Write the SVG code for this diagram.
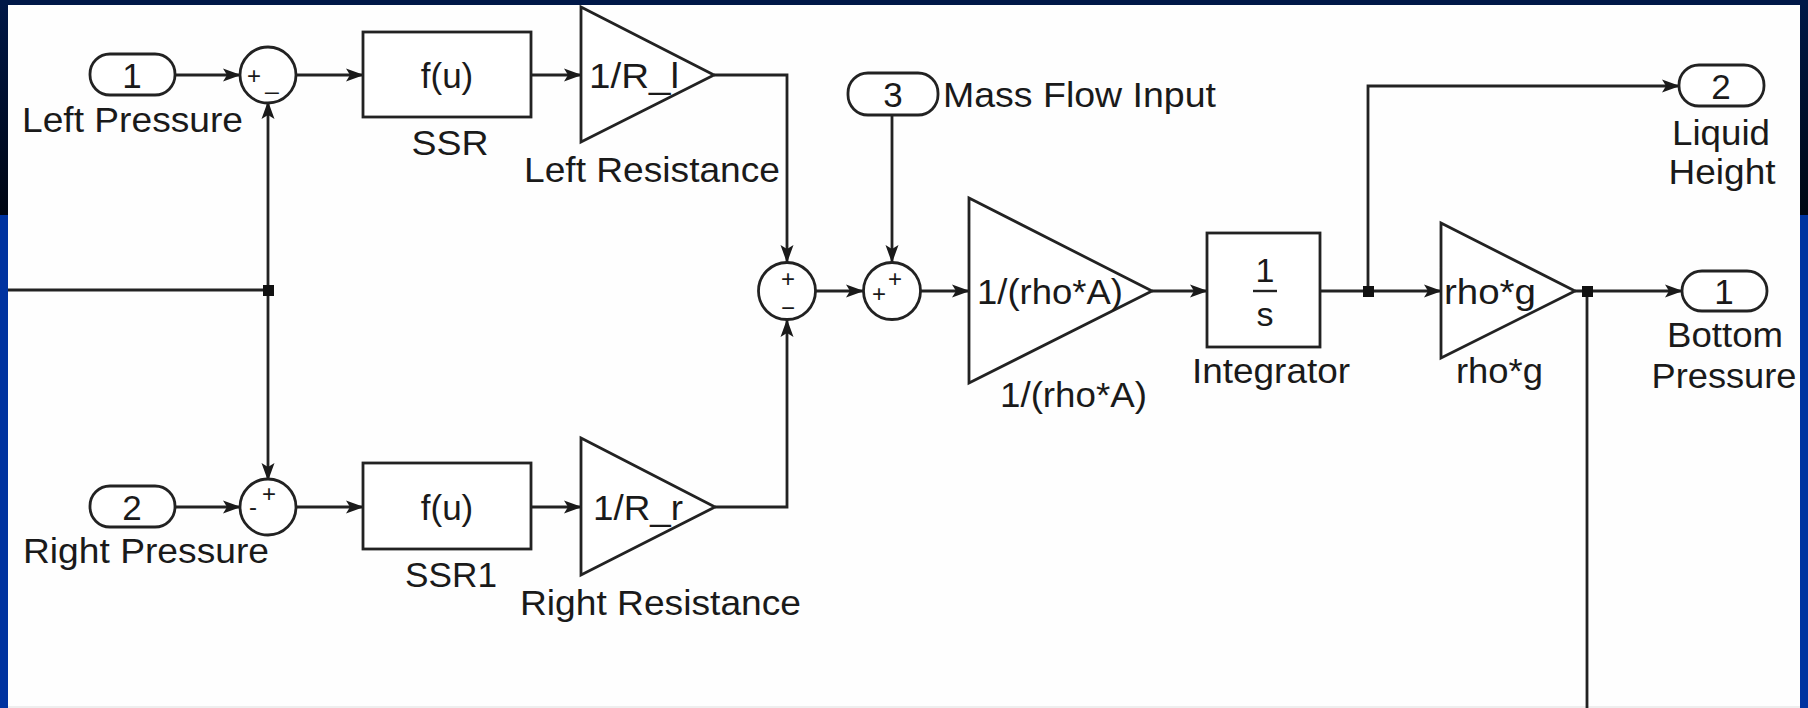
<svg xmlns="http://www.w3.org/2000/svg" width="1808" height="708" viewBox="0 0 1808 708">
<defs>
<linearGradient id="topdark" x1="0" y1="0" x2="0" y2="1">
<stop offset="0" stop-color="#001848"/>
<stop offset="1" stop-color="#000612"/>
</linearGradient>
<marker id="arr" markerUnits="userSpaceOnUse" markerWidth="18" markerHeight="14" refX="17" refY="7" orient="auto">
<path d="M0,0.5 L18,7 L0,13.5 L4,7 z" fill="#1a1a1a"/>
</marker>
<style>
.ln{fill:none;stroke:#222;stroke-width:2.8}
.ar{fill:none;stroke:#222;stroke-width:2.8;marker-end:url(#arr)}
.bx{fill:#fff;stroke:#222;stroke-width:2.8}
.t{font-family:"Liberation Sans",Arial,sans-serif;font-size:35px;fill:#1a1a1a}
.c{text-anchor:middle}
.sg{font-family:"Liberation Sans",Arial,sans-serif;font-size:24px;fill:#1a1a1a;text-anchor:middle}
.jn{fill:#111}
</style>
</defs>
<rect x="0" y="0" width="1808" height="708" fill="#0033a0"/>
<rect x="0" y="0" width="1808" height="215" fill="url(#topdark)"/>
<rect x="0" y="0" width="1808" height="5" fill="#001848"/>
<rect x="8" y="5" width="1792" height="703" fill="#fefefe"/>
<rect x="8" y="706" width="1792" height="2" fill="#eeeeee"/>

<g id="connectors">
<path class="ar" d="M175,75 H240"/>
<path class="ar" d="M296,75 H363"/>
<path class="ar" d="M531,75 H581"/>
<path class="ar" d="M714,75 H787 V262"/>
<path class="ln" d="M8,290 H268"/>
<path class="ar" d="M268,290 V102"/>
<path class="ar" d="M268,290 V480"/>
<path class="ar" d="M175,507 H240"/>
<path class="ar" d="M296,507 H363"/>
<path class="ar" d="M531,507 H581"/>
<path class="ar" d="M715,507 H787 V320"/>
<path class="ar" d="M816,291 H863"/>
<path class="ar" d="M892,115 V262"/>
<path class="ar" d="M921,291 H969"/>
<path class="ar" d="M1152,291 H1207"/>
<path class="ar" d="M1320,291 H1441"/>
<path class="ar" d="M1368,291 V86 H1679"/>
<path class="ar" d="M1575,291 H1682"/>
<path class="ln" d="M1587,291 V708"/>
<rect class="jn" x="263" y="285" width="11" height="11"/>
<rect class="jn" x="1363" y="286" width="11" height="11"/>
<rect class="jn" x="1582" y="286" width="11" height="11"/>
</g>

<g id="in1">
<rect class="bx" x="90" y="54" width="85" height="41" rx="20" ry="20"/>
<text class="t c" x="132" y="88">1</text>
<text class="t" x="22" y="132" textLength="221" lengthAdjust="spacingAndGlyphs">Left Pressure</text>
</g>
<g id="sum1">
<circle class="bx" cx="268" cy="75" r="28"/>
<text class="sg" x="254" y="84">+</text>
<text class="sg" x="272" y="89">_</text>
</g>
<g id="ssr">
<rect class="bx" x="363" y="32" width="168" height="85"/>
<text class="t c" x="447" y="88">f(u)</text>
<text class="t c" x="450" y="155" textLength="77" lengthAdjust="spacingAndGlyphs">SSR</text>
</g>
<g id="leftres">
<path class="bx" d="M581,7 L714,75 L581,142 z"/>
<text class="t" x="589" y="88" textLength="90" lengthAdjust="spacingAndGlyphs">1/R_l</text>
<text class="t" x="524" y="182" textLength="256" lengthAdjust="spacingAndGlyphs">Left Resistance</text>
</g>
<g id="in2">
<rect class="bx" x="90" y="486" width="85" height="41" rx="20" ry="20"/>
<text class="t c" x="132" y="520">2</text>
<text class="t" x="23" y="563" textLength="246" lengthAdjust="spacingAndGlyphs">Right Pressure</text>
</g>
<g id="sum2">
<circle class="bx" cx="268" cy="507" r="28"/>
<text class="sg" x="253" y="515">-</text>
<text class="sg" x="269" y="502">+</text>
</g>
<g id="ssr1">
<rect class="bx" x="363" y="463" width="168" height="86"/>
<text class="t c" x="447" y="520">f(u)</text>
<text class="t" x="405" y="587" textLength="92" lengthAdjust="spacingAndGlyphs">SSR1</text>
</g>
<g id="rightres">
<path class="bx" d="M581,438 L715,507 L581,575 z"/>
<text class="t" x="593" y="520" textLength="90" lengthAdjust="spacingAndGlyphs">1/R_r</text>
<text class="t" x="520" y="615" textLength="281" lengthAdjust="spacingAndGlyphs">Right Resistance</text>
</g>
<g id="sum3">
<circle class="bx" cx="787" cy="291" r="28.5"/>
<text class="sg" x="788" y="287">+</text>
<text class="sg" x="788" y="316">−</text>
</g>
<g id="in3">
<rect class="bx" x="848" y="73" width="90" height="42" rx="20" ry="20"/>
<text class="t c" x="893" y="107">3</text>
<text class="t" x="943" y="107" textLength="273" lengthAdjust="spacingAndGlyphs">Mass Flow Input</text>
</g>
<g id="sum4">
<circle class="bx" cx="892" cy="291" r="28.5"/>
<text class="sg" x="895" y="287">+</text>
<text class="sg" x="879" y="302">+</text>
</g>
<g id="gainA">
<path class="bx" d="M969,198 L1152,291 L969,383 z"/>
<text class="t" x="977" y="304" textLength="146" lengthAdjust="spacingAndGlyphs">1/(rho*A)</text>
<text class="t" x="1000" y="407" textLength="147" lengthAdjust="spacingAndGlyphs">1/(rho*A)</text>
</g>
<g id="integrator">
<rect class="bx" x="1207" y="233" width="113" height="114"/>
<text class="t c" x="1265" y="282" style="font-size:34px">1</text>
<path class="ln" d="M1253,291 H1277" style="stroke-width:2.4"/>
<text class="t c" x="1265" y="326" style="font-size:34px">s</text>
<text class="t" x="1192" y="383" textLength="158" lengthAdjust="spacingAndGlyphs">Integrator</text>
</g>
<g id="gaing">
<path class="bx" d="M1441,223 L1575,291 L1441,358 z"/>
<text class="t" x="1444" y="304" textLength="92" lengthAdjust="spacingAndGlyphs">rho*g</text>
<text class="t" x="1456" y="383" textLength="87" lengthAdjust="spacingAndGlyphs">rho*g</text>
</g>
<g id="out2">
<rect class="bx" x="1679" y="65" width="85" height="41" rx="20" ry="20"/>
<text class="t c" x="1721" y="99">2</text>
<text class="t c" x="1721" y="145" textLength="98" lengthAdjust="spacingAndGlyphs">Liquid</text>
<text class="t c" x="1722" y="184" textLength="107" lengthAdjust="spacingAndGlyphs">Height</text>
</g>
<g id="out1">
<rect class="bx" x="1682" y="271" width="85" height="40" rx="20" ry="20"/>
<text class="t c" x="1724" y="304">1</text>
<text class="t c" x="1725" y="347" textLength="116" lengthAdjust="spacingAndGlyphs">Bottom</text>
<text class="t c" x="1724" y="388" textLength="145" lengthAdjust="spacingAndGlyphs">Pressure</text>
</g>
</svg>
